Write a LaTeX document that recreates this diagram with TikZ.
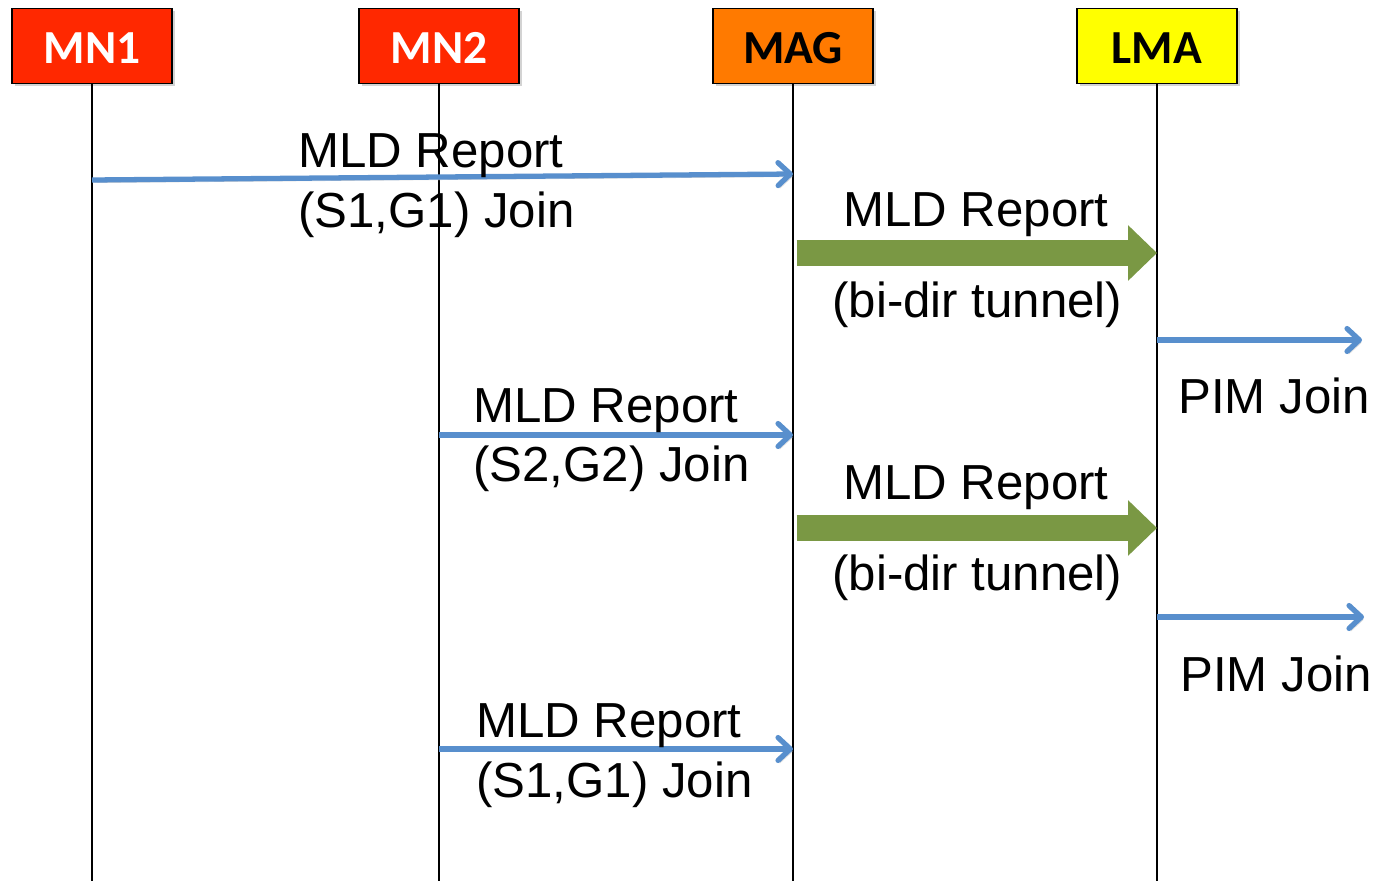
\documentclass[tikz,border=0pt]{standalone}
\usepackage{fontspec}
\setmainfont{Liberation Sans}
\newfontfamily\headfont{Carlito}
\usepackage{xcolor}
\usetikzlibrary{arrows.meta,positioning,shadows}
\definecolor{mnred}{RGB}{255,40,0}
\definecolor{magorange}{RGB}{255,122,0}
\definecolor{lmayellow}{RGB}{255,255,0}
\definecolor{msgblue}{RGB}{88,143,205}
\definecolor{tunnelgreen}{RGB}{122,152,68}

\begin{document}
\begin{tikzpicture}[x=0.02cm, y=-0.02cm,
  entity/.style={draw, line width=1pt, minimum width=3.2cm, minimum height=1.5cm, inner sep=0pt, text height=20pt, text depth=0pt, font=\headfont\bfseries\fontsize{27}{30}\selectfont, drop shadow={shadow xshift=1.5pt, shadow yshift=-1.5pt, opacity=0.35}},
  life/.style={line width=0.8pt},
  msg/.style={draw=msgblue, line width=3pt, -{Straight Barb[length=7pt, width=13pt, round]}, preaction={draw=black!15, transform canvas={shift={(1pt,-1.5pt)}}}},
  tunnel/.style={draw=tunnelgreen, line width=14.8pt, -{Triangle[length=16.5pt, width=30.7pt]}},
  lbl/.style={anchor=base west, inner sep=0pt, font=\fontsize{28}{34}\selectfont}]
\useasboundingbox (0,0) rectangle (1375,881);
% entities
\node[entity, fill=mnred, text=white] (mn1) at (92,46) {MN1};
\node[entity, fill=mnred, text=white] (mn2) at (439,46) {MN2};
\node[entity, fill=magorange] (mag) at (793,46) {MAG};
\node[entity, fill=lmayellow] (lma) at (1157,46) {LMA};
% lifelines
\draw[life] (mn1.south) -- (mn1.south |- 0,881);
\draw[life] (mn2.south) -- (mn2.south |- 0,881);
\draw[life] (mag.south) -- (mag.south |- 0,881);
\draw[life] (lma.south) -- (lma.south |- 0,881);
% free ends
\coordinate (pim1) at (1362,340);
\coordinate (pim2) at (1364,617);
% messages
\draw[msg] (mn1 |- 0,180) -- (mag |- 0,174);
\node[lbl] (rep1) at (298,168) {MLD Report};
\node[lbl] (join1) at (298,228) {(S1,G1) Join};
\draw[tunnel] ([xshift=2pt]mag |- 0,253) -- (lma |- 0,253);
\node[lbl] (tun1) at (843,227) {MLD Report};
\node[lbl] (bid1) at (832,318) {(bi-dir tunnel)};
\draw[msg] (lma |- pim1) -- (pim1);
\node[lbl] (pimj1) at (1178,414) {PIM Join};
\draw[msg] (mn2 |- 0,435) -- (mag |- 0,435);
\node[lbl] (rep2) at (473,422) {MLD Report};
\node[lbl] (join2) at (473,481) {(S2,G2) Join};
\draw[tunnel] ([xshift=2pt]mag |- 0,528) -- (lma |- 0,528);
\node[lbl] (tun2) at (843,500) {MLD Report};
\node[lbl] (bid2) at (832,590) {(bi-dir tunnel)};
\draw[msg] (lma |- pim2) -- (pim2);
\node[lbl] (pimj2) at (1180,691) {PIM Join};
\draw[msg] (mn2 |- 0,749) -- (mag |- 0,749);
\node[lbl] (rep3) at (476,737) {MLD Report};
\node[lbl] (join3) at (476,797) {(S1,G1) Join};
\end{tikzpicture}
\end{document}
